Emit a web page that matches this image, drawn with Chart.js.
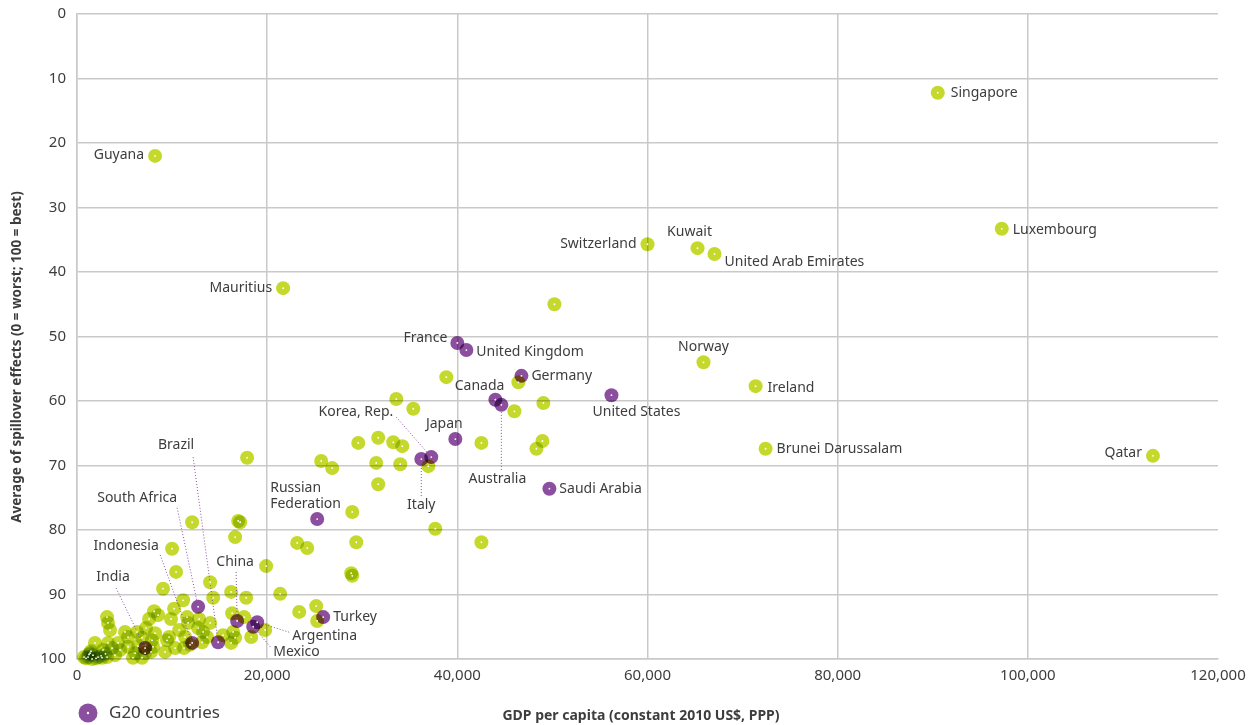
<!DOCTYPE html>
<html>
<head>
<meta charset="utf-8">
<script src="https://cdn.jsdelivr.net/npm/chart.js"></script>
<style>
  body { margin: 0; background: #fff; }
</style>
</head>
<body>
<canvas id="myChart" width="1251" height="725"></canvas>
<script>
// G20 countries (purple)
const g20Names = ['France', 'United Kingdom', 'Germany', 'Canada', 'Australia', 'United States', 'Japan',
  'Korea, Rep.', 'Italy', 'Saudi Arabia', 'Russian\nFederation', 'Turkey', 'Argentina', 'Mexico', 'China',
  'Brazil', 'South Africa', 'Indonesia', 'India'];
const g20Gdp = [40000, 40950, 46740, 44000, 44630, 56210, 39790, 37260, 36210, 49680, 25260, 25890, 18950,
  18530, 16840, 14840, 12740, 12110, 7160];
const g20Score = [51.0, 52.1, 56.1, 59.8, 60.6, 59.1, 65.9, 68.7, 69.0, 73.6, 78.3, 93.5, 94.3, 95.0, 94.1,
  97.4, 91.9, 97.5, 98.3];

// other countries with a label
const namedNames = ['Singapore', 'Luxembourg', 'Guyana', 'Switzerland', 'Kuwait', 'United Arab Emirates',
  'Mauritius', 'Norway', 'Ireland', 'Brunei Darussalam', 'Qatar'];
const namedGdp = [90530, 97260, 8210, 60000, 65260, 67050, 21680, 65890, 71370, 72420, 113160];
const namedScore = [12.2, 33.3, 22.0, 35.7, 36.3, 37.2, 42.5, 54.0, 57.7, 67.4, 68.5];

// other countries, no label
const otherGdp = [50210, 38840, 46420, 33580, 35370, 49050, 46000, 29580, 31680, 33260,
  34210, 42530, 48950, 48320, 25680, 26840, 31470, 34000, 36950, 31680,
  28950, 37680, 23160, 24210, 29370, 42530, 17890, 12110, 16950, 17160,
  16630, 10000, 10420, 19890, 9050, 14000, 16210, 17790, 21370, 11160,
  14320, 23370, 25160, 25260, 28840, 28950, 19790, 18320, 16320, 17580,
  16420, 16210, 8110, 8530, 10210, 9890, 11580, 12840, 14000, 12740,
  13260, 11680, 9680, 11370, 11260, 13160, 13680, 3260, 3470, 5050,
  5370, 6840, 7260, 7890, 8000, 7160, 6110, 5370, 4320, 3260,
  1890, 1370, 2210, 3160, 4000, 2740, 3680, 1680, 1160, 4530,
  8210, 6420, 5890, 6840, 7790, 11890, 9260, 10320, 9470, 15370,
  16630, 10740, 7580, 6320, 740, 2530, 1470, 3160, 950, 1580,
  2000, 2630, 1260, 3000];
const otherScore = [45.0, 56.3, 57.1, 59.7, 61.2, 60.3, 61.6, 66.5, 65.7, 66.4,
  67.0, 66.5, 66.2, 67.4, 69.3, 70.4, 69.6, 69.8, 70.1, 72.9,
  77.2, 79.8, 82.0, 82.8, 81.9, 81.9, 68.8, 78.8, 78.6, 78.8,
  81.1, 82.9, 86.5, 85.6, 89.1, 88.1, 89.6, 90.5, 89.9, 90.9,
  90.5, 92.7, 91.8, 94.1, 86.7, 87.1, 95.5, 96.6, 92.9, 93.5,
  95.8, 97.5, 92.6, 93.2, 92.2, 93.8, 93.5, 93.8, 94.4, 95.2,
  95.8, 94.4, 96.6, 96.6, 98.3, 97.4, 96.6, 94.4, 95.5, 95.8,
  96.6, 96.7, 95.2, 97.1, 98.1, 99.1, 99.1, 98.1, 97.5, 97.5,
  97.5, 99.1, 99.7, 99.7, 99.4, 98.6, 98.3, 99.4, 99.7, 98.6,
  96.0, 98.0, 99.8, 99.8, 98.9, 97.8, 98.9, 98.3, 97.1, 96.3,
  96.7, 95.5, 93.8, 95.8, 99.7, 99.5, 98.8, 93.5, 99.9, 100,
  99.9, 99.8, 99.3, 99.2];

const xTicks = [0, 20000, 40000, 60000, 80000, 100000, 120000];
const yTicks = [0, 10, 20, 30, 40, 50, 60, 70, 80, 90, 100];

const GREEN = '#c5d92d';
const PURPLE = '#8c4f9f';
const TEXT = '#3d3d3d';
const FONT = '"Noto Sans", sans-serif';

// where each label sits, in pixels from its point
const labelPos = {
  'Singapore': { dx: 13, dy: 0, align: 'left' },
  'Luxembourg': { dx: 11, dy: 1, align: 'left' },
  'Guyana': { dx: -11, dy: -1, align: 'right' },
  'Switzerland': { dx: -11, dy: 0, align: 'right' },
  'Kuwait': { dx: -8, dy: -16, align: 'center' },
  'United Arab Emirates': { dx: 10, dy: 8, align: 'left' },
  'Mauritius': { dx: -11, dy: 0, align: 'right' },
  'Norway': { dx: 0, dy: -15, align: 'center' },
  'Ireland': { dx: 12, dy: 2, align: 'left' },
  'Brunei Darussalam': { dx: 11, dy: 0, align: 'left' },
  'Qatar': { dx: -11, dy: -3, align: 'right' },
  'France': { dx: -10, dy: -5, align: 'right' },
  'United Kingdom': { dx: 10, dy: 2, align: 'left' },
  'Germany': { dx: 10, dy: 0, align: 'left' },
  'Canada': { dx: 9, dy: -14, align: 'right' },
  'Australia': { dx: -4, dy: 74, align: 'center', line: [0, 65] },
  'United States': { dx: 25, dy: 17, align: 'center' },
  'Japan': { dx: -11, dy: -15, align: 'center' },
  'Korea, Rep.': { dx: -38, dy: -45, align: 'right', line: [-35, -40] },
  'Italy': { dx: 0, dy: 46, align: 'center', line: [0, 37] },
  'Saudi Arabia': { dx: 10, dy: 0, align: 'left' },
  'Russian\nFederation': { dx: -47, dy: -31, align: 'left' },
  'Turkey': { dx: 10, dy: 0, align: 'left' },
  'Argentina': { dx: 35, dy: 14, align: 'left', line: [32, 10] },
  'Mexico': { dx: 20, dy: 25, align: 'left', line: [17, 20] },
  'China': { dx: -2, dy: -59, align: 'center', line: [-1, -49] },
  'Brazil': { dx: -42, dy: -197, align: 'center', line: [-25, -185] },
  'South Africa': { dx: -61, dy: -109, align: 'center', line: [-21, -99] },
  'Indonesia': { dx: -66, dy: -97, align: 'center', line: [-32, -88] },
  'India': { dx: -32, dy: -71, align: 'center', line: [-29, -60] }
};

function toPoints(xs, ys, names) {
  return xs.map((x, i) => ({ x: x, y: ys[i], name: names ? names[i] : '' }));
}

const overlay = {
  id: 'overlay',
  beforeDatasetsDraw(chart) {
    chart.ctx.save();
    chart.ctx.globalCompositeOperation = 'multiply';
  },
  afterDatasetsDraw(chart) {
    const ctx = chart.ctx;
    ctx.restore();

    // leader lines
    ctx.save();
    ctx.strokeStyle = PURPLE;
    ctx.lineWidth = 1;
    ctx.setLineDash([1, 2]);
    chart.data.datasets.forEach((ds, i) => {
      chart.getDatasetMeta(i).data.forEach((pt, j) => {
        const p = labelPos[ds.data[j].name];
        if (!p || !p.line) return;
        ctx.beginPath();
        ctx.moveTo(pt.x + p.line[0], pt.y + p.line[1]);
        ctx.lineTo(pt.x, pt.y);
        ctx.stroke();
      });
    });
    ctx.restore();

    // white centre dots
    ctx.save();
    ctx.fillStyle = '#fff';
    chart.data.datasets.forEach((ds, i) => {
      chart.getDatasetMeta(i).data.forEach(pt => {
        ctx.beginPath();
        ctx.arc(pt.x, pt.y, 0.9, 0, Math.PI * 2);
        ctx.fill();
      });
    });

    // country labels
    ctx.fillStyle = TEXT;
    ctx.font = '14px ' + FONT;
    ctx.textBaseline = 'middle';
    chart.data.datasets.forEach((ds, i) => {
      chart.getDatasetMeta(i).data.forEach((pt, j) => {
        const name = ds.data[j].name;
        const p = labelPos[name];
        if (!p) return;
        ctx.textAlign = p.align;
        name.split('\n').forEach((line, k) => {
          ctx.fillText(line, pt.x + p.dx, pt.y + p.dy + k * 16);
        });
      });
    });
    ctx.restore();
  },
  afterDraw(chart) {
    const ctx = chart.ctx;
    ctx.save();
    ctx.fillStyle = TEXT;
    ctx.textAlign = 'center';
    ctx.textBaseline = 'middle';
    ctx.font = 'bold 14px ' + FONT;
    ctx.fillText('GDP per capita (constant 2010 US$, PPP)', 641, 716);
    // y axis title, sits a bit below the middle of the axis
    ctx.translate(17, 357);
    ctx.rotate(-Math.PI / 2);
    ctx.font = 'bold 13.5px ' + FONT;
    ctx.fillText('Average of spillover effects (0 = worst; 100 = best)', 0, 0);
    ctx.restore();

    // legend
    ctx.save();
    ctx.fillStyle = PURPLE;
    ctx.beginPath();
    ctx.arc(88, 713, 9.5, 0, Math.PI * 2);
    ctx.fill();
    ctx.fillStyle = '#fff';
    ctx.beginPath();
    ctx.arc(88, 713, 1.2, 0, Math.PI * 2);
    ctx.fill();
    ctx.fillStyle = TEXT;
    ctx.font = '17px ' + FONT;
    ctx.textBaseline = 'middle';
    ctx.textAlign = 'left';
    ctx.fillText('G20 countries', 109, 713);
    ctx.restore();
  }
};

const chart = new Chart(document.getElementById('myChart'), {
  type: 'scatter',
  data: {
    datasets: [{
      label: 'G20 countries',
      data: toPoints(g20Gdp, g20Score, g20Names),
      backgroundColor: PURPLE,
      pointRadius: 7,
      pointBorderWidth: 0,
      borderWidth: 0
    }, {
      label: 'Other countries',
      data: toPoints(namedGdp, namedScore, namedNames).concat(toPoints(otherGdp, otherScore)),
      backgroundColor: GREEN,
      pointRadius: 7,
      pointBorderWidth: 0,
      borderWidth: 0
    }]
  },
  options: {
    responsive: false,
    animation: false,
    events: [],
    clip: false,
    layout: { padding: { top: 14, right: 33, left: 0, bottom: 0 } },
    plugins: {
      legend: { display: false },
      tooltip: { enabled: false }
    },
    scales: {
      x: {
        type: 'linear',
        min: 0,
        max: 120000,
        afterBuildTicks: s => { s.ticks = xTicks.map(v => ({ value: v })); },
        afterFit: s => {
          s.height = 66;
          s.paddingLeft = 0;
          s.paddingRight = 0;
        },
        grid: {
          color: c => c.tick && c.tick.value === 120000 ? 'rgba(0,0,0,0)' : '#c9c9c9',
          lineWidth: 1.5,
          drawTicks: false
        },
        border: { color: '#c9c9c9', width: 1.5 },
        ticks: {
          padding: 8,
          color: TEXT,
          font: { family: FONT, size: 15 },
          callback: v => v.toLocaleString('en-US')
        }
      },
      y: {
        type: 'linear',
        min: 0,
        max: 100,
        reverse: true,
        afterBuildTicks: s => { s.ticks = yTicks.map(v => ({ value: v })); },
        afterFit: s => {
          s.width = 77;
          s.paddingTop = 0;
          s.paddingBottom = 0;
        },
        grid: { color: '#c9c9c9', lineWidth: 1.5, drawTicks: false },
        border: { color: '#c9c9c9', width: 1.5 },
        ticks: {
          padding: 11,
          color: TEXT,
          font: { family: FONT, size: 15 }
        }
      }
    }
  },
  plugins: [overlay]
});
</script>
</body>
</html>
